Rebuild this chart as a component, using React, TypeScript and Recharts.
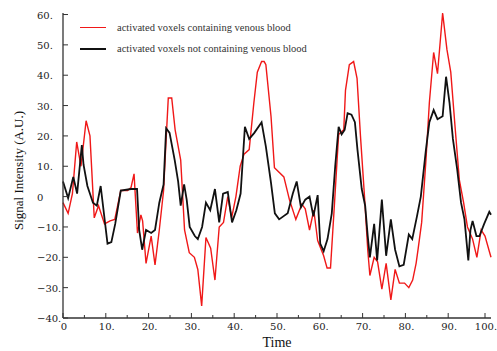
import { LineChart, Line, XAxis, YAxis, Legend } from 'recharts';

// time (s) and signal values
const redTime = [
  0, 1.2, 2.2, 3.2, 4.2, 5.4, 6.3, 7.3, 8.3, 9.7,
  11, 12.1, 13.5, 15.1, 15.9, 16.6, 17.4, 18.2, 18.6, 19.4,
  20.6, 21.5, 22.5, 23.5, 24.1, 24.6, 25.4, 26.2, 27.5, 28.4,
  29.5, 30.7, 31.5, 32.4, 33.4, 34.5, 35.5, 36.5, 37.5, 38.5,
  39.4, 40.4, 41.4, 42.3, 43.5, 44.6, 45.4, 46.4, 47, 47.4,
  48.6, 49.4, 51.6, 52.9, 54.4, 55.8, 56.6, 57.6, 58.6, 59.5,
  60.9, 61.7, 62.5, 63.4, 64.4, 65.6, 66, 66.9, 67.9, 68.7,
  69.5, 70.4, 71.2, 71.7, 72.7, 73.5, 74.5, 75.5, 76.6, 77.6,
  78.6, 79.8, 80.8, 81.7, 82.5, 83, 83.8, 84.8, 85.6, 86.6,
  87.5, 88.7, 89.7, 90.6, 91.6, 92.6, 93.6, 94.5, 95.7, 96.7,
  97.7, 98.6, 99.6, 100,
];
const redValue = [
  -2, -5.5, 1, 18, 10, 25, 20, -7, -3, -9,
  -8, -7.5, 2, 2, 3, 7.5, -12, -6, -8, -22,
  -13, -22.5, -11, 2, 19, 32.5, 32.5, 22, 12, -11,
  -18.5, -20, -24, -36, -13.5, -17, -27.5, -10, -8.5, 0,
  -7, 0, 10, 14, 15.5, 31, 41, 44.5, 44.5, 43.5,
  26.5, 9.5, 6.5, -1, -7.5, -2.5, -4, -11, -4.5, -14.5,
  -19.5, -23.5, -23.5, -3, 20.5, 22, 35, 43.5, 44.5, 39,
  20, 1, -17.5, -26, -20, -21.5, -30.5, -22, -34, -24,
  -28.5, -28.5, -30, -27.5, -22, -17, -8.5, 12, 31, 47.5,
  40.5, 60.5, 48.5, 41, 23, 5.5, -2, -10, -14, -20,
  -11, -13, -18, -20,
];
const blackTime = [
  0, 1.2, 2.4, 3.3, 4.4, 4.8, 5.7, 7, 7.9, 8.8,
  10.4, 11.3, 12.2, 13.5, 15.9, 17.3, 17.8, 18.5, 19.4, 20.6,
  21.5, 22.5, 23.5, 24.1, 24.9, 26.1, 26.9, 27.5, 28.3, 28.9,
  29.6, 30.8, 31.5, 32.5, 33.4, 34.4, 35.5, 36.5, 37.4, 38.5,
  39.5, 40.5, 41.5, 42.5, 43.5, 44.7, 46.4, 47.4, 48.6, 49.5,
  50.5, 52.5, 53.7, 54.6, 55.6, 56.6, 57.6, 58.5, 59.5, 60.1,
  60.9, 61.8, 62.8, 63.6, 64.4, 65.1, 65.8, 66.5, 67.4, 68.2,
  68.8, 69.8, 70.6, 71.2, 71.7, 72.7, 73.4, 74.5, 75.5, 76.6,
  77.6, 78.6, 79.6, 80.8, 81.6, 82.7, 83.6, 84.8, 85.6, 86.6,
  87.5, 88.7, 89.5, 90.3, 91.1, 92.1, 93, 93.8, 94.7, 95.2,
  95.7, 96.6, 97.3, 98.4, 99.6, 100,
];
const blackValue = [
  5, -0.5, 6.5, 1, 17, 10.5, 3.5, -2, -3, 3.5,
  -15.5, -15, -9, 2, 2.5, 2.5, -11, -17.5, -11, -12,
  -11, -2, 4, 22.5, 21, 12, 5, -3, 4, -1,
  -10, -13, -14, -10, -2, -4.5, 2.5, -8.5, 1, 1.5,
  -8.5, -4.5, 1, 23, 19, 21, 24.5, 16.5, 4.5, -5.5,
  -7.5, -5.5, 1, 5, -3.5, -1, 0, -6.5, 0.5, -15.5,
  -18, -14, -5.5, 10, 23, 20.5, 22, 27.5, 27, 24.5,
  15.5, 2.5, -3, -13, -20, -9, -21, -1, -19.5, -7.5,
  -17.5, -23, -22.5, -12.5, -14, -6.5, 0, 15.5, 24.5, 28.5,
  25.5, 26.5, 39.5, 31, 19, 9, -2, -7.5, -21, -11,
  -8, -13, -13, -9, -5, -6,
];

const xTicks = [0, 5, 10, 15, 20, 25, 30, 35, 40, 45, 50, 55, 60, 65, 70, 75, 80, 85, 90, 95, 100];
const yTicks = [-40, -35, -30, -25, -20, -15, -10, -5, 0, 5, 10, 15, 20, 25, 30, 35, 40, 45, 50, 55, 60];

const redData = redTime.map((t, i) => ({ t, v: redValue[i] }));
const blackData = blackTime.map((t, i) => ({ t, v: blackValue[i] }));

const serif = '"DejaVu Serif", serif';
const times = '"Liberation Serif", "Times New Roman", serif';
const frame = '#333';

const fmt = (v: number) => (v === 0 ? '0' : `${v < 0 ? '\u2212' : ''}${Math.abs(v)}.`);

const BottomTick = ({ x, y, payload }: any) => {
  const major = payload.value % 10 === 0;
  return (
    <g>
      <line x1={x} y1={y} x2={x} y2={y - (major ? 5 : 3)} stroke={frame} />
      {major && (
        <text x={x + 1} y={y + 12} textAnchor="middle" fontFamily={serif} fontSize={10} fill="#222">
          {fmt(payload.value)}
        </text>
      )}
    </g>
  );
};

const LeftTick = ({ x, y, payload }: any) => {
  const major = payload.value % 10 === 0;
  return (
    <g>
      <line x1={x} y1={y} x2={x + (major ? 5 : 3)} y2={y} stroke={frame} />
      {major && (
        <text x={x - 26} y={y + 4} textAnchor="start" fontFamily={serif} fontSize={10} fill="#222">
          {fmt(payload.value)}
        </text>
      )}
    </g>
  );
};

const TopTick = ({ x, y }: any) => <line x1={x} y1={y} x2={x} y2={y + 4} stroke={frame} />;
const RightTick = ({ x, y }: any) => <line x1={x} y1={y} x2={x - 4} y2={y} stroke={frame} />;

const TimeLabel = ({ viewBox }: any) => (
  <text
    x={viewBox.x + viewBox.width / 2}
    y={viewBox.y + viewBox.height - 4}
    textAnchor="middle"
    fontFamily={times}
    fontSize={14}
    fill="#111"
  >
    Time
  </text>
);

const YLabel = ({ viewBox }: any) => {
  const cx = viewBox.x + 23;
  const cy = viewBox.y + viewBox.height / 2 + 5;
  return (
    <text x={cx} y={cy} transform={`rotate(-90 ${cx} ${cy})`} textAnchor="middle" fontFamily={times} fontSize={13} fill="#111">
      Signal Intensity (A.U.)
    </text>
  );
};

const renderLegend = ({ payload }: any) => (
  <div style={{ fontFamily: times, fontSize: 10.5, color: '#333' }}>
    {(payload || []).map((item: any) => (
      <div key={item.value} style={{ display: 'flex', alignItems: 'center', height: 21 }}>
        <div style={{ width: 26, height: item.color === '#111' ? 2 : 1.3, background: item.color, marginRight: 11 }} />
        <span>{item.value}</span>
      </div>
    ))}
  </div>
);

export default function App() {
  return (
    <div style={{ position: 'absolute', left: 0, top: 0, background: '#fff' }}>
      <LineChart width={497} height={351} margin={{ top: 13, right: 6, bottom: 0, left: 0 }}>
        <XAxis
          xAxisId="b"
          dataKey="t"
          type="number"
          domain={[0, 100]}
          ticks={xTicks}
          height={33}
          tickSize={0}
          tickMargin={0}
          tickLine={false}
          tick={(p: any) => <BottomTick {...p} />}
          axisLine={{ stroke: frame, strokeWidth: 1.3 }}
          label={(p: any) => <TimeLabel {...p} />}
        />
        <XAxis
          xAxisId="t"
          orientation="top"
          type="number"
          domain={[0, 100]}
          ticks={xTicks}
          height={0}
          tickSize={0}
          tickMargin={0}
          tickLine={false}
          tick={(p: any) => <TopTick {...p} />}
          axisLine={{ stroke: frame, strokeWidth: 1.3 }}
        />
        <YAxis
          yAxisId="l"
          type="number"
          domain={[-40, 60]}
          ticks={yTicks}
          width={63}
          tickSize={0}
          tickMargin={0}
          tickLine={false}
          tick={(p: any) => <LeftTick {...p} />}
          axisLine={{ stroke: frame, strokeWidth: 1.3 }}
          label={(p: any) => <YLabel {...p} />}
        />
        <YAxis
          yAxisId="r"
          orientation="right"
          type="number"
          domain={[-40, 60]}
          ticks={yTicks}
          width={0}
          tickSize={0}
          tickMargin={0}
          tickLine={false}
          tick={(p: any) => <RightTick {...p} />}
          axisLine={{ stroke: frame, strokeWidth: 1.3 }}
        />
        <Legend
          layout="vertical"
          align="center"
          verticalAlign="middle"
          content={renderLegend}
          wrapperStyle={{ top: 17, left: 80, width: 'auto', height: 'auto' }}
        />
        <Line
          xAxisId="b"
          yAxisId="l"
          data={redData}
          dataKey="v"
          name="activated voxels containing venous blood"
          type="linear"
          stroke="#f01818"
          strokeWidth={1.4}
          dot={false}
          isAnimationActive={false}
        />
        <Line
          xAxisId="b"
          yAxisId="l"
          data={blackData}
          dataKey="v"
          name="activated voxels not containing venous blood"
          type="linear"
          stroke="#111"
          strokeWidth={1.8}
          dot={false}
          isAnimationActive={false}
        />
      </LineChart>
    </div>
  );
}
